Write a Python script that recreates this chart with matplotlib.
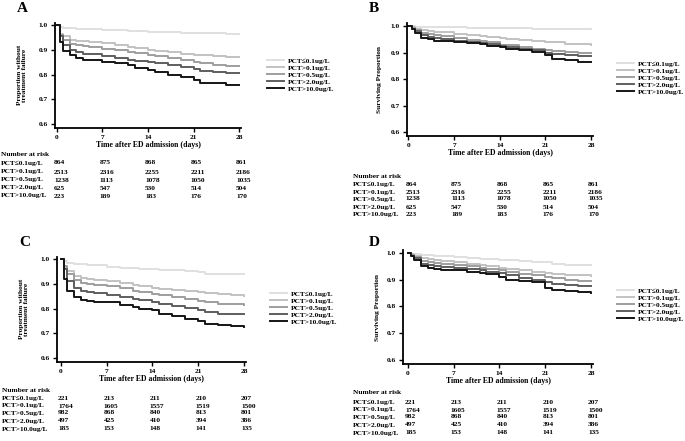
import matplotlib
matplotlib.use("Agg")
import matplotlib.pyplot as plt
import matplotlib.transforms as mtransforms

plt.rcParams['font.family'] = ['Liberation Serif', 'DejaVu Serif']
plt.rcParams['font.weight'] = 'bold'
plt.rcParams['axes.labelweight'] = 'bold'

groups = ['PCT≤0.1ug/L', 'PCT>0.1ug/L', 'PCT>0.5ug/L', 'PCT>2.0ug/L', 'PCT>10.0ug/L']
colors = ['#e0e0e0', '#c2c2c2', '#9e9e9e', '#5e5e5e', '#151515']

days = [0, 0.5, 1, 2, 3, 4, 5, 7, 9, 11, 12, 14, 15, 17, 19, 21, 22, 24, 26, 28]

# panel A - treatment failure, all patients
a_curves = [
    [1.0, 0.990, 0.988, 0.986, 0.985, 0.984, 0.983, 0.980, 0.978, 0.976, 0.975, 0.973, 0.972, 0.970, 0.968, 0.967, 0.966, 0.966, 0.965, 0.965],
    [1.0, 0.965, 0.955, 0.940, 0.937, 0.934, 0.931, 0.927, 0.920, 0.912, 0.908, 0.900, 0.896, 0.890, 0.885, 0.881, 0.878, 0.875, 0.872, 0.870],
    [1.0, 0.960, 0.940, 0.925, 0.920, 0.916, 0.912, 0.905, 0.898, 0.890, 0.886, 0.880, 0.875, 0.866, 0.858, 0.852, 0.846, 0.840, 0.836, 0.834],
    [1.0, 0.955, 0.920, 0.900, 0.890, 0.885, 0.882, 0.876, 0.868, 0.860, 0.856, 0.850, 0.845, 0.838, 0.830, 0.822, 0.815, 0.810, 0.806, 0.805],
    [1.0, 0.932, 0.894, 0.880, 0.868, 0.860, 0.857, 0.852, 0.845, 0.838, 0.828, 0.818, 0.810, 0.800, 0.792, 0.780, 0.768, 0.765, 0.760, 0.758],
]
# panel B - survival, all patients
b_curves = [
    [1.0, 0.999, 0.998, 0.997, 0.997, 0.996, 0.996, 0.995, 0.994, 0.994, 0.993, 0.993, 0.992, 0.991, 0.990, 0.990, 0.989, 0.988, 0.988, 0.987],
    [1.0, 0.995, 0.990, 0.985, 0.982, 0.979, 0.976, 0.970, 0.966, 0.962, 0.960, 0.955, 0.952, 0.948, 0.944, 0.940, 0.938, 0.934, 0.931, 0.928],
    [1.0, 0.992, 0.985, 0.975, 0.970, 0.966, 0.962, 0.955, 0.948, 0.942, 0.938, 0.930, 0.927, 0.921, 0.915, 0.910, 0.907, 0.901, 0.900, 0.900],
    [1.0, 0.990, 0.980, 0.965, 0.960, 0.955, 0.950, 0.945, 0.940, 0.935, 0.931, 0.925, 0.921, 0.915, 0.910, 0.900, 0.896, 0.890, 0.888, 0.887],
    [1.0, 0.990, 0.975, 0.955, 0.950, 0.945, 0.942, 0.940, 0.936, 0.932, 0.925, 0.920, 0.915, 0.908, 0.902, 0.890, 0.876, 0.870, 0.865, 0.865],
]
# panel C - treatment failure, subgroup
c_curves = [
    [1.0, 0.990, 0.985, 0.981, 0.979, 0.977, 0.975, 0.969, 0.965, 0.962, 0.960, 0.958, 0.956, 0.954, 0.952, 0.949, 0.940, 0.938, 0.938, 0.938],
    [1.0, 0.962, 0.950, 0.930, 0.925, 0.920, 0.916, 0.910, 0.903, 0.896, 0.892, 0.885, 0.881, 0.875, 0.870, 0.865, 0.862, 0.857, 0.853, 0.850],
    [1.0, 0.970, 0.940, 0.915, 0.905, 0.900, 0.896, 0.890, 0.882, 0.873, 0.868, 0.860, 0.855, 0.846, 0.838, 0.830, 0.826, 0.820, 0.817, 0.815],
    [1.0, 0.960, 0.910, 0.885, 0.870, 0.866, 0.862, 0.855, 0.847, 0.838, 0.833, 0.825, 0.820, 0.812, 0.803, 0.795, 0.788, 0.780, 0.779, 0.778],
    [1.0, 0.920, 0.870, 0.845, 0.835, 0.830, 0.828, 0.825, 0.815, 0.808, 0.800, 0.795, 0.780, 0.770, 0.760, 0.750, 0.738, 0.735, 0.730, 0.725],
]
# panel D - survival, subgroup
d_curves = [
    [1.0, 0.998, 0.995, 0.993, 0.991, 0.989, 0.987, 0.985, 0.982, 0.979, 0.978, 0.975, 0.973, 0.970, 0.968, 0.967, 0.958, 0.956, 0.955, 0.955],
    [1.0, 0.995, 0.990, 0.980, 0.977, 0.974, 0.970, 0.965, 0.960, 0.955, 0.951, 0.945, 0.941, 0.935, 0.930, 0.925, 0.922, 0.918, 0.916, 0.914],
    [1.0, 0.992, 0.985, 0.970, 0.966, 0.962, 0.959, 0.955, 0.950, 0.944, 0.940, 0.935, 0.930, 0.922, 0.916, 0.910, 0.905, 0.898, 0.895, 0.895],
    [1.0, 0.990, 0.980, 0.960, 0.955, 0.951, 0.948, 0.945, 0.940, 0.935, 0.930, 0.925, 0.918, 0.908, 0.898, 0.890, 0.885, 0.880, 0.878, 0.877],
    [1.0, 0.990, 0.975, 0.950, 0.945, 0.940, 0.938, 0.935, 0.928, 0.925, 0.920, 0.910, 0.900, 0.897, 0.890, 0.870, 0.860, 0.858, 0.855, 0.852],
]

risk_days = [0, 7, 14, 21, 28]
risk_all = [
    [864, 875, 868, 865, 861],
    [2513, 2316, 2255, 2211, 2186],
    [1238, 1113, 1078, 1050, 1035],
    [625, 547, 530, 514, 504],
    [223, 189, 183, 176, 170],
]
risk_sub = [
    [221, 213, 211, 210, 207],
    [1764, 1605, 1557, 1519, 1500],
    [982, 868, 840, 813, 801],
    [497, 425, 410, 394, 386],
    [185, 153, 148, 141, 135],
]

W, H = 685, 441
fig = plt.figure(figsize=(W / 100, H / 100), dpi=100)
fs = 5.3


def px_axes(left, right, top, bottom):
    return fig.add_axes([left / W, 1 - bottom / H, (right - left) / W, (bottom - top) / H])


panels = [
    # letter, curves, risk, ylabel, axes box, xlim, letter pos, ylabel x, legend pos, table x, header y, row ys
    ('A', a_curves, risk_all, 'Proportion without\ntreatment failure', (55, 241, 22.5, 128), (-0.3, 28.3),
     (17, 9), 27, (263, 54), 1, 155, [163, 172, 180, 188, 196]),
    ('B', b_curves, risk_all, 'Surviving Proportion', (407, 593, 23.4, 136), (-0.2, 28.3),
     (369, 9), 382, (613, 57), 353, 176, [184, 192, 199, 207, 215]),
    ('C', c_curves, risk_sub, 'Proportion without\ntreatment failure', (57, 246, 256.5, 362), (-0.6, 28.3),
     (19, 243), 29, (266, 287), 2, 391, [398, 406, 413, 421, 429]),
    ('D', d_curves, risk_sub, 'Surviving Proportion', (403, 593, 250.3, 364), (-0.75, 28.3),
     (369, 243), 380, (613, 284), 353, 393, [402, 410, 417, 425, 433]),
]

for (letter, curves, risk, ylab, box, xlim, lpos, ylx, legpos, tx, thy, rows) in panels:
    ax = px_axes(*box)
    for name, col, vals in zip(groups, colors, curves):
        ax.step(days, vals, where='post', color=col, lw=1.4, label=name)
    ax.set_xlim(*xlim)
    ax.set_ylim(0.585, 1.01)
    ax.set_xticks(risk_days)
    ax.set_yticks([0.6, 0.7, 0.8, 0.9, 1.0])
    ax.set_yticklabels(['0.6', '0.7', '0.8', '0.9', '1.0'])
    ax.spines['top'].set_visible(False)
    ax.spines['right'].set_visible(False)
    ax.spines['left'].set_linewidth(1.3)
    ax.spines['bottom'].set_linewidth(1.3)
    ax.tick_params(labelsize=fs, width=1.0, length=3, pad=2)
    ax.set_xlabel('Time after ED admission (days)', fontsize=fs + 0.3, labelpad=1)
    ax.set_ylabel(ylab, fontsize=fs, labelpad=3, linespacing=1.1)
    ax.yaxis.set_label_coords(ylx / W, 1 - (box[2] + box[3]) / 2 / H, transform=fig.transFigure)

    fig.text(lpos[0] / W, 1 - lpos[1] / H, letter, fontsize=11, fontweight='bold', va='center')

    ax.legend(loc='upper left', bbox_to_anchor=(legpos[0] / W, 1 - legpos[1] / H),
              bbox_transform=fig.transFigure, frameon=False, fontsize=fs,
              handlelength=2.3, handletextpad=0.6, labelspacing=0.12, borderpad=0)

    tr = mtransforms.blended_transform_factory(ax.transData, fig.transFigure)
    fig.text(tx / W, 1 - thy / H, 'Number at risk', fontsize=fs, va='center')
    for name, rvals, ry in zip(groups, risk, rows):
        fig.text(tx / W, 1 - ry / H, name, fontsize=fs, va='center')
        for d, n in zip(risk_days, rvals):
            ax.text(d - 0.45, 1 - ry / H, str(n), transform=tr, fontsize=fs, va='center', ha='left')

fig.savefig('out.png', dpi=100)
